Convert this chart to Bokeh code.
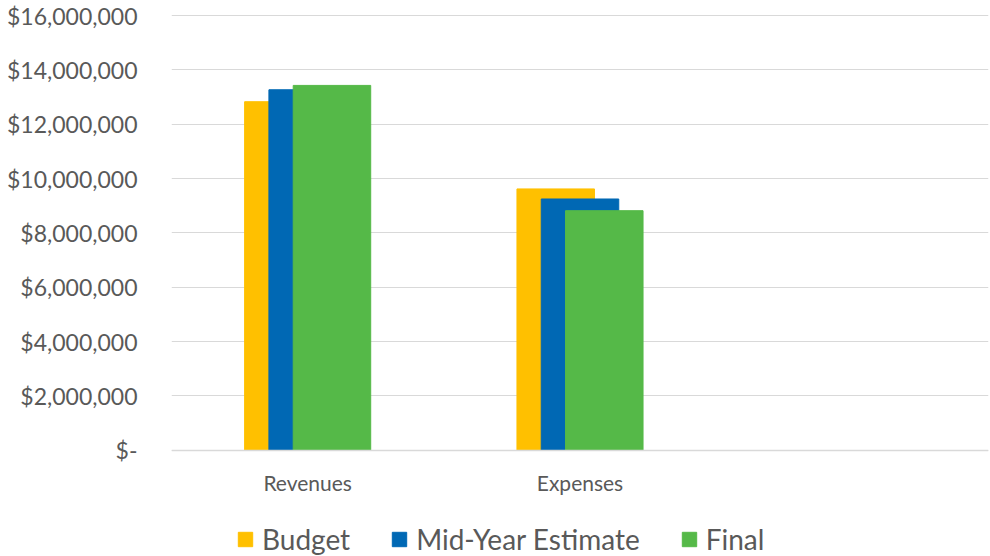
from bokeh.plotting import figure
from bokeh.models import (FactorRange, Range1d, FixedTicker, Legend, LegendItem,
                          NumeralTickFormatter, ColumnDataSource)
from bokeh.transform import dodge
from bokeh.embed import file_html
from bokeh.resources import INLINE

# ---- data ----
categories = ["Revenues", "Expenses", " "]
bar_categories = ["Revenues", "Expenses"]
budget = [12830000, 9620000]
mid_year = [13270000, 9250000]
final = [13430000, 8820000]
y_ticks = [0, 2000000, 4000000, 6000000, 8000000, 10000000, 12000000, 14000000, 16000000]
series_names = ["Budget", "Mid-Year Estimate", "Final"]
colors = ["#FFC000", "#0068B4", "#55B948"]

source = ColumnDataSource(dict(cat=bar_categories, budget=budget, mid=mid_year, final=final))

# frame spans to the bottom of the canvas so the legend can sit inside it
p = figure(width=990, height=556, x_range=FactorRange(*categories, range_padding=0),
           y_range=Range1d(-3908000, 16040000), output_backend="svg", toolbar_location=None,
           min_border_left=171, min_border_right=2, min_border_top=14, min_border_bottom=0)
p.x_range.factor_padding = 0
p.outline_line_color = None

offset = 0.0892
bw = 0.2846
r1 = p.vbar(x=dodge("cat", -offset, range=p.x_range), top="budget", width=bw,
            source=source, color=colors[0])
r2 = p.vbar(x=dodge("cat", 0, range=p.x_range), top="mid", width=bw,
            source=source, color=colors[1])
r3 = p.vbar(x=dodge("cat", offset, range=p.x_range), top="final", width=bw,
            source=source, color=colors[2])

# axes
p.yaxis.ticker = FixedTicker(ticks=y_ticks)
p.yaxis.formatter = NumeralTickFormatter(format="$0,0")
p.yaxis.major_label_overrides = {0: "$-"}
p.yaxis.axis_line_color = None
p.yaxis.major_tick_line_color = None
p.yaxis.minor_tick_line_color = None
p.yaxis.major_tick_out = 0
p.yaxis.major_tick_in = 0
p.yaxis.major_label_standoff = 34
p.yaxis.major_label_text_font = "Lato"
p.yaxis.major_label_text_font_size = "23px"
p.yaxis.major_label_text_color = "#595959"

p.xaxis.fixed_location = 0
p.xaxis.axis_line_color = "#d9d9d9"
p.xaxis.axis_line_width = 1.5
p.xaxis.major_tick_line_color = None
p.xaxis.minor_tick_line_color = None
p.xaxis.major_tick_out = 0
p.xaxis.major_tick_in = 0
p.xaxis.major_label_standoff = 20
p.xaxis.major_label_text_font = "Lato"
p.xaxis.major_label_text_font_size = "21px"
p.xaxis.major_label_text_color = "#595959"

p.xgrid.grid_line_color = None
p.ygrid.grid_line_color = "#d9d9d9"
p.ygrid.grid_line_width = 1

legend = Legend(items=[LegendItem(label=series_names[0], renderers=[r1]),
                       LegendItem(label=series_names[1], renderers=[r2]),
                       LegendItem(label=series_names[2], renderers=[r3])],
                orientation="horizontal", location=(65, 0),
                label_text_font="Lato", label_text_font_size="28px",
                label_text_color="#595959", glyph_width=18, glyph_height=18,
                label_height=18, label_standoff=8, spacing=40, padding=0, margin=0,
                border_line_color=None, background_fill_alpha=0)
p.add_layout(legend)

open("out.html", "w").write(file_html(p, INLINE))
